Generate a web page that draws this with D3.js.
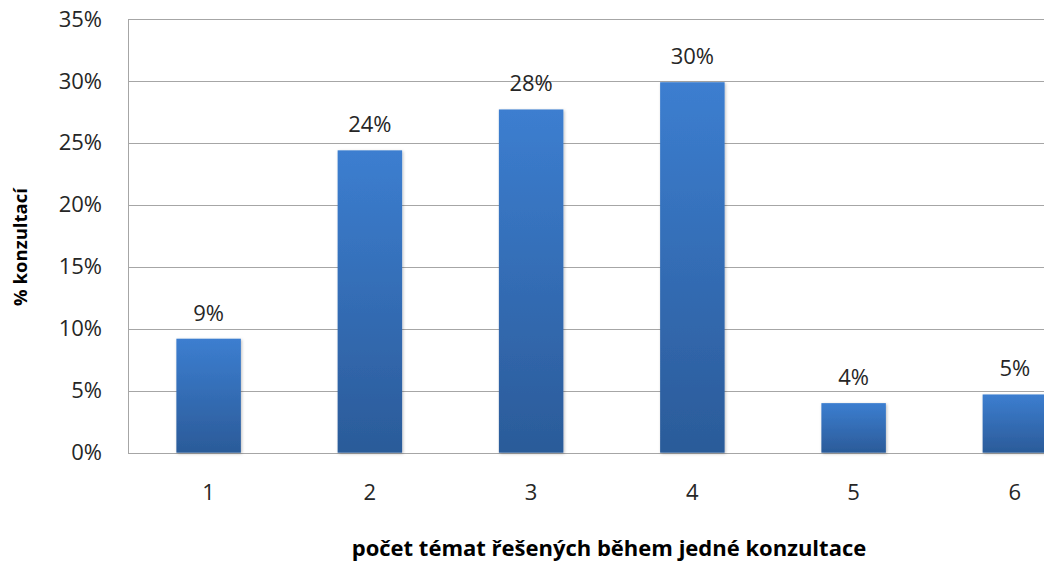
<!DOCTYPE html>
<html>
<head>
<meta charset="utf-8">
<script src="https://cdn.jsdelivr.net/npm/d3@7"></script>
<style>
  body { margin: 0; background: #fff; }
  text { font-family: "Open Sans", "Noto Sans", sans-serif; fill: #262626; }
</style>
</head>
<body>
<div id="chart"></div>
<script>
var categories = ["1", "2", "3", "4", "5", "6"];
var shares = [9.2, 24.4, 27.7, 29.9, 4.0, 4.7];
var valueLabels = ["9%", "24%", "28%", "30%", "4%", "5%"];
var yTicks = [0, 5, 10, 15, 20, 25, 30, 35];

var svgWidth = 1044;
var svgHeight = 563;

// plot runs past the right edge, like the cropped original
var margin = { top: 19, left: 128 };
var width = 967.5;
var height = 433.7;

var svg = d3.select("#chart")
  .append("svg")
  .attr("width", svgWidth)
  .attr("height", svgHeight);

var defs = svg.append("defs");
var grad = defs.append("linearGradient")
  .attr("id", "barGrad")
  .attr("x1", 0).attr("y1", 0).attr("x2", 0).attr("y2", 1);
grad.append("stop").attr("offset", "0%").attr("stop-color", "#3c7ed0");
grad.append("stop").attr("offset", "100%").attr("stop-color", "#2b5b99");

var shadow = defs.append("filter").attr("id", "shadow")
  .attr("x", "-20%").attr("y", "-20%").attr("width", "140%").attr("height", "140%");
shadow.append("feDropShadow")
  .attr("dx", 1).attr("dy", 1).attr("stdDeviation", 1.5)
  .attr("flood-color", "#000").attr("flood-opacity", 0.25);

var chartGroup = svg.append("g")
  .attr("transform", `translate(${margin.left}, ${margin.top})`);

var xScale = d3.scaleBand()
  .domain(categories)
  .range([0, width])
  .paddingInner(0.6)
  .paddingOuter(0.3);

var yScale = d3.scaleLinear()
  .domain([0, 35])
  .range([height, 0]);

// gridlines
chartGroup.append("g")
  .selectAll("line")
  .data(yTicks)
  .enter()
  .append("line")
  .attr("x1", 0)
  .attr("x2", width)
  .attr("y1", d => Math.round(yScale(d)) + 0.5)
  .attr("y2", d => Math.round(yScale(d)) + 0.5)
  .attr("stroke", "#a6a6a6")
  .attr("stroke-width", 1);

// left axis line
chartGroup.append("line")
  .attr("x1", 0.5).attr("x2", 0.5)
  .attr("y1", Math.round(yScale(35)) + 0.5)
  .attr("y2", Math.round(yScale(0)) + 0.5)
  .attr("stroke", "#a6a6a6");

var leftAxis = d3.axisLeft(yScale)
  .tickValues(yTicks)
  .tickFormat(d => d + "%")
  .tickSize(0)
  .tickPadding(26);

var yAxis = chartGroup.append("g").call(leftAxis);
yAxis.select(".domain").remove();
yAxis.selectAll("text")
  .style("font-size", "22px")
  .style("fill", "#262626");

var bottomAxis = d3.axisBottom(xScale)
  .tickSize(0)
  .tickPadding(32);

var xAxis = chartGroup.append("g")
  .attr("transform", `translate(0, ${height})`)
  .call(bottomAxis);
xAxis.select(".domain").remove();
xAxis.selectAll("text")
  .style("font-size", "22px")
  .style("fill", "#262626");

// bars
chartGroup.selectAll("rect.bar")
  .data(shares)
  .enter()
  .append("rect")
  .attr("class", "bar")
  .attr("x", (d, i) => xScale(categories[i]))
  .attr("y", d => yScale(d))
  .attr("width", xScale.bandwidth())
  .attr("height", d => height - yScale(d))
  .attr("fill", "url(#barGrad)")
  .attr("filter", "url(#shadow)");

// value labels
chartGroup.selectAll("text.val")
  .data(shares)
  .enter()
  .append("text")
  .attr("class", "val")
  .attr("x", (d, i) => xScale(categories[i]) + xScale.bandwidth() / 2)
  .attr("y", d => yScale(d) - 18)
  .attr("text-anchor", "middle")
  .style("font-size", "22px")
  .text((d, i) => valueLabels[i]);

// axis titles
svg.append("text")
  .attr("transform", `translate(27, 247) rotate(-90)`)
  .attr("text-anchor", "middle")
  .style("font-size", "18.5px")
  .style("font-weight", "bold")
  .style("fill", "#000")
  .text("% konzultací");

svg.append("text")
  .attr("x", 609)
  .attr("y", 556)
  .attr("text-anchor", "middle")
  .style("font-size", "22px")
  .style("font-weight", "bold")
  .style("fill", "#000")
  .text("počet témat řešených během jedné konzultace");
</script>
</body>
</html>
